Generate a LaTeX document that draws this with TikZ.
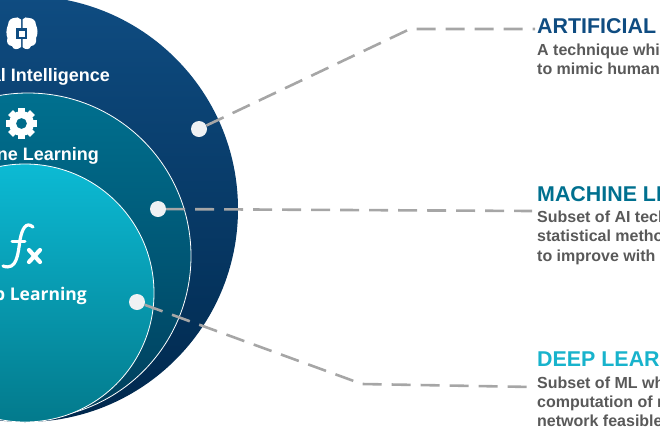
\documentclass[tikz,border=0pt]{standalone}
\usepackage{fontspec}
\setmainfont{Liberation Sans}
\newfontfamily\labfont{Open Sans}
\definecolor{aiT}{HTML}{0F4C81}\definecolor{aiB}{HTML}{00284D}
\definecolor{mlT}{HTML}{00708F}\definecolor{mlB}{HTML}{003E5C}
\definecolor{dlT}{HTML}{0CBAD4}\definecolor{dlB}{HTML}{037A8C}
\definecolor{leadc}{HTML}{A6A6A6}\definecolor{bodyc}{HTML}{595959}
\definecolor{dotc}{HTML}{EFF1F3}
\definecolor{tAI}{HTML}{0F4C81}\definecolor{tML}{HTML}{00708F}\definecolor{tDL}{HTML}{18B3CC}
\tikzset{
 x=1pt,y=-1pt,
 ring/.style={draw=white,line width=.8pt},
 dotn/.style={circle,fill=dotc,minimum size=16pt,inner sep=0pt},
 leader/.style={draw=leadc,line width=2.6pt,dash pattern=on 19pt off 10pt},
 lab/.style={text=white,font=\bfseries\fontsize{18}{20}\selectfont,anchor=base east,inner sep=0pt},
 hd/.style={font=\bfseries\fontsize{21.4}{24}\selectfont,anchor=base west,inner sep=0pt},
 bodyt/.style={text=bodyc,font=\bfseries\fontsize{16}{19}\selectfont,anchor=base west,inner sep=0pt},
}
\begin{document}
\begin{tikzpicture}
\useasboundingbox (0,0) rectangle (660,440);
\clip (0,0) rectangle (660,440);
\shade[top color=aiT,bottom color=aiB] (25,209) circle (213);
\shade[ring,top color=mlT,bottom color=mlB] (28,256) circle (163);
\shade[ring,top color=dlT,bottom color=dlB] (25,293) circle (129);
% icons
\begin{scope}[fill=white]
 \fill (8,25) .. controls (8,20) and (12,18) .. (14,18) .. controls (16,17) and (19,17) .. (21,19.5) -- (21,47)
   .. controls (18,50) and (13,50) .. (12,46) .. controls (8,46) and (6,42) .. (7.5,38) .. controls (6,35) and (6,29) .. (8,25) -- cycle;
 \fill (22.5,19.5) .. controls (24,17) and (27,17) .. (29,18) .. controls (32,18) and (36,20) .. (36,25) .. controls (38,29) and (38,35) .. (36,38) .. controls (37,42) and (35,46) .. (31,46) .. controls (30,50) and (25,50) .. (22.5,47) -- cycle;
 \fill[color=aiT] (16,28) rectangle (27,39);
 \fill (18.5,30.5) rectangle (24.5,36.5);
 \foreach \a in {0,45,...,315}{\fill[rotate around={\a:(21.5,123.5)}] (18,108) rectangle (25,114);}
 \fill[even odd rule] (21.5,123.5) circle (12.5) (21.5,123.5) circle (5.5);
\end{scope}
\draw[white,line width=3.2pt,line cap=round] (33,227) .. controls (26,221) and (22,229) .. (20,240) .. controls (18,254) and (17,271) .. (3,266);
\draw[white,line width=3pt,line cap=round] (12,241) -- (25,241);
\draw[white,line width=4.2pt,line cap=round] (29,250) -- (40,262) (40,250) -- (29,262);
% labels
\node[lab] (l1) at (110,81) {Artificial Intelligence};
\node[lab] (l2) at (99,160) {Machine Learning};
\node[lab,font=\labfont\bfseries\fontsize{17.5}{20}\selectfont] (l3) at (87,300) {Deep Learning};
% dots
\node[dotn] (d1) at (199,129) {};
\node[dotn] (d2) at (158,209) {};
\node[dotn] (d3) at (137,302) {};
\coordinate (e1) at (535,29); \coordinate (k1) at (410,29);
\coordinate (e2) at (532,211);
\coordinate (e3) at (533,387); \coordinate (k3) at (362,384);
\draw[leader] (d1) -- (k1) -- (e1);
\draw[leader] (d2) -- (e2);
\draw[leader] (d3) -- (k3) -- (e3);
% text
\node[hd,text=tAI] (h1) at (537,33) {ARTIFICIAL INTELLIGENCE};
\node[bodyt] (b1a) at (537,55) {A technique which enables machines};
\node[bodyt] (b1b) at (537,74) {to mimic human behaviour};
\node[hd,text=tML] (h2) at (537,201) {MACHINE LEARNING};
\node[bodyt] (b2a) at (537,222) {Subset of AI technique which use};
\node[bodyt] (b2b) at (537,241) {statistical methods to enable machines};
\node[bodyt] (b2c) at (537,261) {to improve with experience};
\node[hd,text=tDL] (h3) at (537,366) {DEEP LEARNING};
\node[bodyt] (b3a) at (537,388) {Subset of ML which make the};
\node[bodyt] (b3b) at (537,407) {computation of multi-layer neural};
\node[bodyt] (b3c) at (537,426) {network feasible};
\end{tikzpicture}
\end{document}
